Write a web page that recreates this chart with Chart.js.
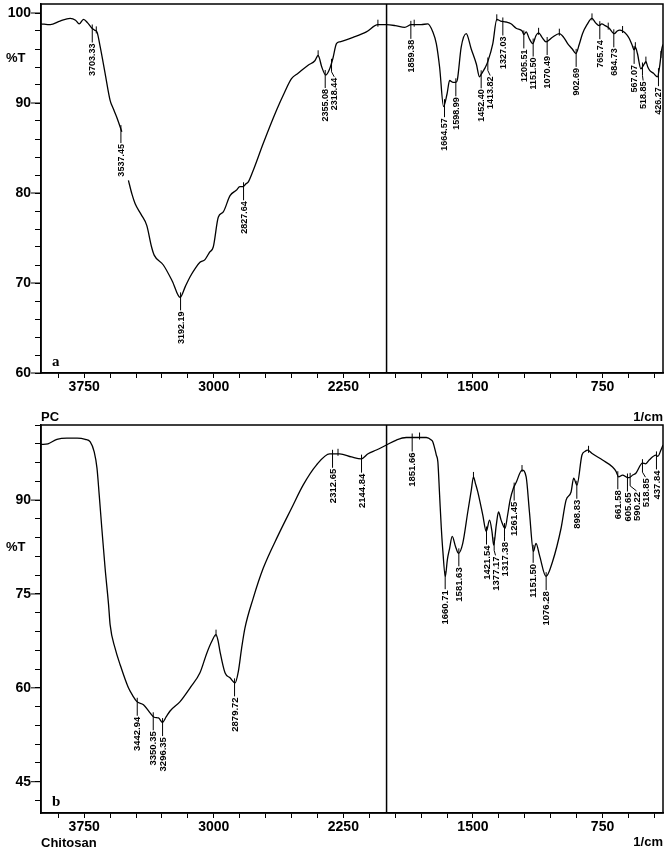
<!DOCTYPE html>
<html>
<head>
<meta charset="utf-8">
<script src="https://cdn.jsdelivr.net/npm/chart.js@4.4.0/dist/chart.umd.min.js"></script>
<style>
  html, body { margin: 0; padding: 0; background: #fff; }
  #wrap { position: relative; width: 669px; height: 851px; }
  canvas { position: absolute; left: 0; }
  #chartA { top: 0; }
  #chartB { top: 400px; }
</style>
</head>
<body>
<div id="wrap">
  <canvas id="chartA" width="669" height="400"></canvas>
  <canvas id="chartB" width="669" height="451"></canvas>
</div>
<script>
const FONT = "'Liberation Sans', Arial, sans-serif";

// ---- panel a : wavenumber (1/cm) and %T, null = break in trace
const wnA = [4000, 3946, 3890, 3831, 3800, 3779, 3754, 3730, 3705, 3690, 3676, 3657, 3629, 3600, 3580, 3561, 3532, 3513,
  3494, 3474, 3455, 3420, 3388, 3360, 3345, 3292, 3240, 3195, 3165, 3137, 3108, 3080, 3051, 3025, 3003, 2974, 2945,
  2906, 2870, 2849, 2830, 2815, 2801, 2772, 2714, 2637, 2590, 2550, 2512, 2454, 2415, 2396, 2375, 2352, 2329, 2310,
  2290, 2270, 2194, 2117, 2050, 2001, 1950, 1895, 1857, 1800, 1761, 1732, 1712, 1693, 1670, 1650, 1635, 1615, 1599,
  1590, 1568, 1539, 1510, 1480, 1462, 1452, 1430, 1414, 1385, 1362, 1340, 1308, 1280, 1250, 1215, 1205, 1192, 1175,
  1154, 1135, 1120, 1100, 1077, 1040, 1000, 975, 952, 925, 904, 885, 866, 840, 811, 790, 769, 755, 735, 711, 695,
  682, 665, 650, 634, 610, 596, 580, 567, 560, 548, 528, 510, 499, 488, 476, 455, 432, 420, 407, 400];
const tA = [98.8, 98.7, 99.1, 99.4, 99.2, 98.8, 99.3, 98.9, 98.3, 98.1, 97.9, 96.2, 93.3, 90.3, 89.3, 88.4, 86.8, null,
  81.4, 79.9, 78.8, 77.6, 76.4, 74.0, 73.1, 72.0, 70.2, 68.4, 69.6, 70.7, 71.6, 72.3, 72.6, 73.4, 74.0, 77.3, 77.9,
  79.7, 80.3, 80.7, 80.7, 81.0, 81.2, 82.5, 85.5, 89.2, 91.2, 92.7, 93.3, 94.2, 94.7, 95.3, 94.0, 93.1, 93.8, 95.0,
  96.6, 96.8, 97.3, 97.9, 98.7, 98.7, 98.6, 98.4, 98.7, 98.7, 98.8, 97.9, 96.6, 94.0, 89.6, 91.0, 92.5, 92.3, 92.3,
  92.6, 96.2, 97.7, 96.0, 94.3, 92.9, 93.2, 93.9, 94.6, 96.6, 99.3, 99.1, 99.0, 98.8, 98.3, 98.0, 97.6, 97.9, 97.2,
  96.6, 97.5, 97.8, 97.3, 96.8, 97.3, 97.7, 97.3, 96.6, 96.0, 95.5, 96.5, 97.7, 98.7, 99.4, 98.9, 98.6, 98.8, 98.6, 98.3, 97.9,
  97.7, 98.0, 98.1, 98.0, 97.6, 97.2, 96.5, 95.9, 96.2, 95.5, 93.8, 94.3, 94.6, 94.0, 93.6, 93.3, 92.9, 94.0, 96.0, 96.5];
const peakWnA = [3703.33, 3537.45, 3192.19, 2827.64, 2355.08, 2318.44, 1859.38, 1664.57, 1598.99, 1452.40, 1413.82,
  1327.03, 1205.51, 1151.50, 1070.49, 902.69, 765.74, 684.73, 567.07, 518.85, 426.27];
const peakTxtA = ["3703.33", "3537.45", "3192.19", "2827.64", "2355.08", "2318.44", "1859.38", "1664.57", "1598.99",
  "1452.40", "1413.82", "1327.03", "1205.51", "1151.50", "1070.49", "902.69", "765.74", "684.73", "567.07", "518.85", "426.27"];
const markWnA = [3680, 2396, 2050, 1840, 1362, 1120, 1000, 811, 717, 634, 560, 499, 412];

// ---- panel b : Chitosan
const wnB = [4000, 3960, 3908, 3850, 3790, 3744, 3715, 3692, 3676, 3663, 3648, 3629, 3609, 3600, 3571, 3542, 3494,
  3470, 3445, 3407, 3369, 3345, 3320, 3297, 3275, 3253, 3195, 3137, 3080, 3041, 3012, 2987, 2975, 2964, 2935, 2906,
  2877, 2858, 2839, 2820, 2772, 2714, 2627, 2550, 2483, 2406, 2329, 2271, 2203, 2146, 2107, 2059, 2001, 1943, 1886,
  1770, 1741, 1732, 1712, 1703, 1693, 1683, 1674, 1660, 1648, 1635, 1620, 1601, 1584, 1559, 1530, 1510, 1497, 1485,
  1472, 1443, 1423, 1404, 1390, 1380, 1365, 1352, 1337, 1314, 1300, 1285, 1266, 1250, 1216, 1192, 1173, 1150, 1135,
  1115, 1077, 1039, 990, 961, 932, 917, 898, 869, 850, 837, 808, 750, 692, 672, 657, 634, 605, 596, 575, 557, 519,
  500, 480, 441, 430, 412, 400];
const tB = [98.9, 99.0, 99.7, 99.9, 99.9, 99.7, 99.3, 97.7, 95.1, 90.8, 85.5, 79.1, 73.3, 70.1, 66.3, 63.7, 60.0,
  58.8, 57.8, 57.3, 56.0, 55.3, 55.2, 54.5, 55.4, 56.3, 57.8, 60.0, 62.4, 65.5, 67.4, 68.5, 67.5, 65.8, 62.4, 61.6,
  60.8, 62.6, 66.3, 69.5, 74.3, 79.1, 84.4, 88.7, 92.4, 95.6, 97.4, 97.4, 96.9, 96.6, 97.4, 98.0, 98.8, 99.6, 100.0,
  100.0, 99.6, 99.3, 97.2, 96.1, 90.8, 85.5, 81.8, 77.8, 80.5, 82.3, 84.2, 82.6, 81.5, 83.1, 88.1, 91.5, 93.7, 92.6,
  91.3, 87.6, 85.0, 86.8, 85.0, 82.8, 86.0, 88.1, 86.8, 85.5, 87.5, 90.0, 91.9, 92.8, 94.8, 93.7, 88.1, 81.8, 83.1,
  81.2, 77.8, 80.2, 85.5, 90.0, 91.3, 93.5, 92.4, 97.2, 97.8, 98.0, 97.4, 96.4, 95.3, 94.6, 93.7, 94.0, 93.6, 93.6,
  94.0, 94.3, 95.9, 95.8, 96.4, 97.2, 97.0, 98.0, 98.8];
const peakWnB = [3442.94, 3350.35, 3296.35, 2879.72, 2312.65, 2144.84, 1851.66, 1660.71, 1581.63, 1421.54, 1377.17,
  1317.38, 1261.45, 1151.50, 1076.28, 898.83, 661.58, 605.65, 590.22, 518.85, 437.84];
const peakTxtB = ["3442.94", "3350.35", "3296.35", "2879.72", "2312.65", "2144.84", "1851.66", "1660.71", "1581.63",
  "1421.54", "1377.17", "1317.38", "1261.45", "1151.50", "1076.28", "898.83", "661.58", "605.65", "590.22", "518.85", "437.84"];
const markWnB = [2987, 2281, 1809, 1497, 1216, 831];

// ---- axes
const xTicks = [];
for (let v = 450; v <= 3900; v += 150) xTicks.push(v);
const xLabels = [750, 1500, 2250, 3000, 3750];
const yTicksA = [];
for (let v = 60; v <= 100; v += 2) yTicksA.push(v);
const yLabelsA = [60, 70, 80, 90, 100];
const yTicksB = [];
for (let v = 42; v <= 102; v += 3) yTicksB.push(v);
const yLabelsB = [45, 60, 75, 90];

function curveAt(wn, ws, ts) {
  for (let i = 0; i < ws.length - 1; i++) {
    if (ws[i] >= wn && wn >= ws[i + 1] && ts[i] != null && ts[i + 1] != null) {
      const f = (ws[i] - wn) / (ws[i] - ws[i + 1]);
      return ts[i] + f * (ts[i + 1] - ts[i]);
    }
  }
  return null;
}

const spectrumPlugin = {
  id: 'spectrum',
  afterDatasetsDraw(chart, args, o) {
    const { ctx, chartArea: a } = chart;
    const x = chart.scales.x, y = chart.scales.y;
    const seg = (x1, y1, x2, y2) => { ctx.beginPath(); ctx.moveTo(x1, y1); ctx.lineTo(x2, y2); ctx.stroke(); };
    ctx.save();
    ctx.strokeStyle = '#000';
    ctx.fillStyle = '#000';
    ctx.lineWidth = 1.5;
    ctx.strokeRect(a.left, a.top, a.right - a.left, a.bottom - a.top);
    const xd = x.getPixelForValue(2000);
    seg(xd, a.top, xd, a.bottom);
    ctx.lineWidth = 1;
    o.yLabels.forEach(v => { const py = y.getPixelForValue(v); seg(a.left - 10, py, a.left, py); });

    // small peak ticks on the trace
    o.marks.forEach(wn => {
      const px = x.getPixelForValue(wn), py = y.getPixelForValue(curveAt(wn, o.ws, o.ts));
      seg(px, py - 5, px, py + 2);
    });

    // peak labels
    ctx.font = 'bold ' + o.size + 'px ' + FONT;
    const items = o.peaks.map((wn, i) => {
      const px = x.getPixelForValue(wn);
      const py = y.getPixelForValue(curveAt(wn, o.ws, o.ts));
      return { px, py, tx: px, top: py + 15, len: ctx.measureText(o.texts[i]).width, txt: o.texts[i] };
    }).sort((p, q) => p.px - q.px);
    for (let i = 1; i < items.length; i++) {
      const p = items[i - 1], q = items[i];
      const overlap = q.top < p.top + p.len && p.top < q.top + q.len;
      if (overlap && q.tx - p.tx < 9) q.tx = p.tx + 9;
    }
    items.forEach(it => {
      ctx.beginPath();
      ctx.moveTo(it.px, it.py - 4);
      if (it.tx !== it.px) ctx.lineTo(it.px, it.top - 6);
      ctx.lineTo(it.tx, it.top - 1);
      ctx.stroke();
      ctx.save();
      ctx.translate(it.tx, it.top);
      ctx.rotate(-Math.PI / 2);
      ctx.textAlign = 'right';
      ctx.textBaseline = 'middle';
      ctx.fillText(it.txt, 0, 0.5);
      ctx.restore();
    });

    // axis titles and panel letter
    ctx.textBaseline = 'middle';
    ctx.textAlign = 'left';
    ctx.font = 'bold 13px ' + FONT;
    ctx.fillText(o.yTitle, 6, y.getPixelForValue(o.yTitleAt));
    ctx.font = 'bold 15px "Liberation Serif", "Times New Roman", serif';
    ctx.fillText(o.letter, a.left + 11, a.bottom - 11);
    ctx.font = 'bold 13px ' + FONT;
    if (o.header) {
      ctx.fillText('PC', a.left, a.top - 8);
      ctx.textAlign = 'right';
      ctx.fillText('1/cm', a.right, a.top - 8);
      ctx.textAlign = 'left';
      ctx.fillText('Chitosan', a.left, a.bottom + 30);
      ctx.textAlign = 'right';
      ctx.fillText('1/cm', a.right, a.bottom + 29);
    }
    ctx.restore();
  }
};

function makeChart(id, ws, ts, yTicks, yLabels, c) {
  const tickFont = { family: FONT, size: 14, weight: 'bold' };
  return new Chart(document.getElementById(id), {
    type: 'line',
    data: {
      datasets: [{
        data: ws.map((w, i) => ({ x: w, y: ts[i] })),
        borderColor: '#000',
        borderWidth: 1.3,
        pointRadius: 0,
        cubicInterpolationMode: 'monotone',
        spanGaps: false,
        fill: false
      }]
    },
    options: {
      responsive: false,
      animation: false,
      devicePixelRatio: 1,
      layout: { padding: c.padding },
      plugins: {
        legend: { display: false },
        tooltip: { enabled: false },
        spectrum: {
          ws, ts, yLabels, peaks: c.peaks, texts: c.texts, marks: c.marks, size: c.size,
          yTitle: c.yTitle, yTitleAt: c.yTitleAt, letter: c.letter, header: c.header
        }
      },
      scales: {
        x: {
          type: 'linear', min: 400, max: 4000, reverse: true,
          afterBuildTicks: s => { s.ticks = xTicks.map(v => ({ value: v })); },
          afterFit: s => { s.height = c.xHeight; s.paddingLeft = 0; s.paddingRight = 0; },
          ticks: {
            autoSkip: false, maxRotation: 0, padding: 1, color: '#000', font: tickFont,
            callback: v => xLabels.includes(v) ? String(v) : ''
          },
          grid: { drawOnChartArea: false, drawTicks: true, tickLength: 5, color: '#000', lineWidth: 1 },
          border: { display: true, color: '#000', width: 1.5 }
        },
        y: {
          type: 'linear', min: c.ymin, max: c.ymax,
          afterBuildTicks: s => { s.ticks = yTicks.map(v => ({ value: v })); },
          afterFit: s => { s.width = 41; s.paddingTop = 0; s.paddingBottom = 0; },
          ticks: {
            autoSkip: false, padding: 4, color: '#000', font: tickFont,
            callback: v => yLabels.includes(v) ? String(v) : ''
          },
          grid: { drawOnChartArea: false, drawTicks: true, tickLength: 6, color: '#000', lineWidth: 1 },
          border: { display: true, color: '#000', width: 1.5 }
        }
      }
    },
    plugins: [spectrumPlugin]
  });
}

makeChart('chartA', wnA, tA, yTicksA, yLabelsA, {
  padding: { top: 4, right: 6, bottom: 0, left: 0 }, xHeight: 27, ymin: 60, ymax: 101,
  peaks: peakWnA, texts: peakTxtA, marks: markWnA, size: 9,
  yTitle: '%T', yTitleAt: 95, letter: 'a', header: false
});
makeChart('chartB', wnB, tB, yTicksB, yLabelsB, {
  padding: { top: 25, right: 6, bottom: 0, left: 0 }, xHeight: 38, ymin: 40, ymax: 102,
  peaks: peakWnB, texts: peakTxtB, marks: markWnB, size: 9.5,
  yTitle: '%T', yTitleAt: 82.5, letter: 'b', header: true
});
</script>
</body>
</html>
